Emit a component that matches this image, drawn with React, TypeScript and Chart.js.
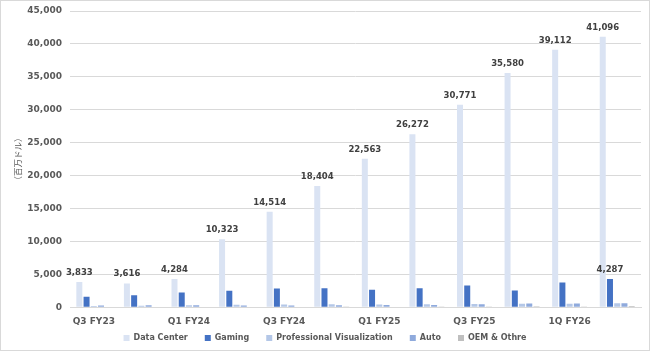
import React, { useEffect, useRef } from "react";
import { Chart, registerables } from "chart.js";

Chart.register(...registerables);

const categories = [
  "Q3 FY23", "Q4 FY23", "Q1 FY24", "Q2 FY24", "Q3 FY24", "Q4 FY24",
  "Q1 FY25", "Q2 FY25", "Q3 FY25", "Q4 FY25", "1Q FY26", "2Q FY26",
];
const dataCenter = [3833, 3616, 4284, 10323, 14514, 18404, 22563, 26272, 30771, 35580, 39112, 41096];
const gaming = [1574, 1831, 2240, 2486, 2856, 2865, 2647, 2880, 3279, 2544, 3763, 4287];
const proViz = [200, 226, 295, 379, 416, 463, 427, 454, 486, 511, 509, 601];
const auto = [251, 294, 296, 253, 261, 281, 329, 346, 449, 570, 567, 586];
const oemOther = [73, 84, 77, 66, 73, 90, 78, 88, 97, 126, 111, 173];
const yTicks = [0, 5000, 10000, 15000, 20000, 25000, 30000, 35000, 40000, 45000];

const FONT = "'DejaVu Sans', Verdana, sans-serif";
const fmt = (v: number) => v.toLocaleString("en-US");

const labelPlugin = {
  id: "valueLabels",
  afterDatasetsDraw(chart: any) {
    const ctx = chart.ctx;
    ctx.save();
    ctx.font = `bold 8.5px ${FONT}`;
    ctx.fillStyle = "#404040";
    ctx.textAlign = "center";
    ctx.textBaseline = "bottom";
    const meta0 = chart.getDatasetMeta(0);
    meta0.data.forEach((bar: any, i: number) => {
      ctx.fillText(fmt(dataCenter[i]), bar.x, bar.y - 5);
    });
    const meta1 = chart.getDatasetMeta(1);
    const last = gaming.length - 1;
    const gb = meta1.data[last];
    ctx.fillText(fmt(gaming[last]), gb.x, gb.y - 5);
    ctx.restore();
  },
};

// Pull the legend row up closer to the axis labels.
const legendShift = {
  id: "legendShift",
  afterLayout(chart: any) {
    const lg = chart.legend;
    if (lg) {
      lg.top -= 19;
      lg.bottom -= 19;
      lg.left += 4;
      lg.right += 4;
    }
  },
};

export default function App() {
  const ref = useRef<HTMLCanvasElement>(null);
  useEffect(() => {
    document.body.style.margin = "0";
    const chart = new Chart(ref.current!, {
      type: "bar",
      data: {
        labels: categories,
        datasets: [
          { label: "Data Center", data: dataCenter, backgroundColor: "#DAE3F3" },
          { label: "Gaming", data: gaming, backgroundColor: "#4472C4" },
          { label: "Professional Visualization", data: proViz, backgroundColor: "#B4C7E7" },
          { label: "Auto", data: auto, backgroundColor: "#8FAADC" },
          { label: "OEM & Othre", data: oemOther, backgroundColor: "#BFBFBF" },
        ],
      },
      options: {
        animation: false,
        responsive: false,
        maintainAspectRatio: false,
        layout: { padding: { top: 10, right: 8, left: 0, bottom: -21 } },
        datasets: { bar: { categoryPercentage: 0.76, barPercentage: 0.83 } },
        scales: {
          x: {
            grid: { display: false, drawTicks: false },
            border: { color: "#D9D9D9" },
            ticks: {
              autoSkip: false,
              maxRotation: 0,
              padding: 9,
              color: "#595959",
              font: { family: FONT, size: 9, weight: "bold" },
              callback: (_v: any, i: number) => (i % 2 === 0 ? categories[i] : ""),
            },
          },
          y: {
            min: 0,
            max: 45000,
            afterBuildTicks: (scale: any) => {
              scale.ticks = yTicks.map((v) => ({ value: v }));
            },
            afterFit: (scale: any) => {
              scale.width = 69;
            },
            grid: { color: "#D9D9D9", drawTicks: true, tickLength: 4, tickColor: "rgba(0,0,0,0)" },
            border: { display: false },
            ticks: {
              padding: 4,
              color: "#595959",
              font: { family: FONT, size: 9, weight: "bold" },
              callback: (v: any) => fmt(Number(v)),
            },
            title: {
              display: true,
              text: "（百万ドル）",
              color: "#595959",
              font: { family: "'Noto Sans CJK JP', sans-serif", size: 8.5 },
              padding: { top: 12, bottom: 0 },
            },
          },
        },
        plugins: {
          legend: {
            position: "bottom",
            labels: {
              boxWidth: 6,
              boxHeight: 6,
              padding: 17,
              color: "#595959",
              font: { family: FONT, size: 8, weight: "bold" },
            },
          },
          tooltip: { enabled: false },
        },
      },
      plugins: [labelPlugin, legendShift],
    } as any);
    return () => chart.destroy();
  }, []);
  return (
    <div
      style={{
        width: 650,
        height: 351,
        boxSizing: "border-box",
        border: "1px solid #D9D9D9",
        background: "#fff",
        position: "relative",
      }}
    >
      <canvas ref={ref} width={648} height={349} style={{ display: "block" }} />
    </div>
  );
}
